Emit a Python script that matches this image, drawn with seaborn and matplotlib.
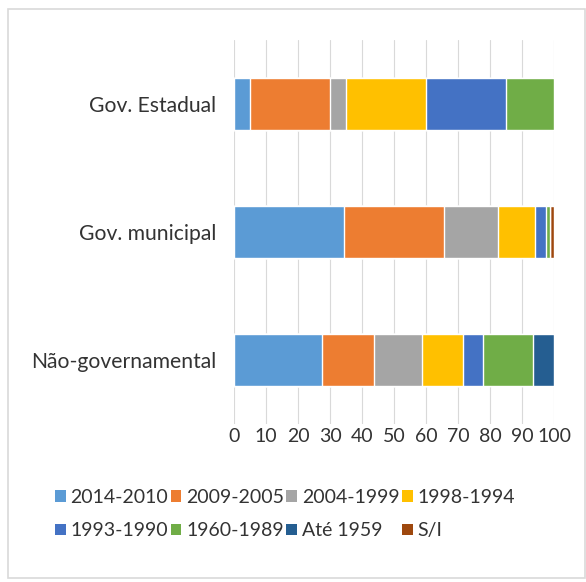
import matplotlib
matplotlib.use("Agg")
import matplotlib.pyplot as plt
import seaborn as sns
import pandas as pd
import numpy as np
from matplotlib.patches import Patch, Rectangle

sns.set_theme(style="white")
plt.rcParams['font.family'] = ['Lato', 'DejaVu Sans']

categories = ["Gov. Estadual", "Gov. municipal", "Não-governamental"]
series = ["2014-2010", "2009-2005", "2004-1999", "1998-1994",
          "1993-1990", "1960-1989", "Até 1959", "S/I"]
values = {
    "2014-2010": [5.0, 34.5, 27.6],
    "2009-2005": [25.0, 31.0, 16.1],
    "2004-1999": [5.0, 17.0, 14.9],
    "1998-1994": [25.0, 11.5, 13.1],
    "1993-1990": [25.0, 3.5, 6.0],
    "1960-1989": [15.0, 1.3, 15.8],
    "Até 1959": [0.0, 0.0, 6.5],
    "S/I": [0.0, 1.2, 0.0],
}
colors = ["#5B9BD5", "#ED7D31", "#A5A5A5", "#FFC000",
          "#4472C4", "#70AD47", "#255E91", "#9E480E"]
xticks = [0, 10, 20, 30, 40, 50, 60, 70, 80, 90, 100]

df = pd.DataFrame(values, index=categories)
cum = df.cumsum(axis=1)

fig = plt.figure(figsize=(5.86, 5.82), dpi=100)
ax = fig.add_axes([234/586, 1-424/582, 320/586, 384/582])

for s, c in reversed(list(zip(series, colors))):
    d = pd.DataFrame({"cat": categories, "val": cum[s].values})
    sns.barplot(data=d, x="val", y="cat", color=c, width=0.4,
                saturation=1, ax=ax, orient="h")

ax.set_xlim(0, 100)
ax.set_xticks(xticks)
ax.set_xticklabels([str(t) for t in xticks], fontsize=14, color="#333333")
ax.tick_params(axis="y", labelsize=15.2, labelcolor="#333333", length=0, pad=13)
ax.tick_params(axis="x", length=0, pad=3)
ax.set_xlabel("")
ax.set_ylabel("")
ax.grid(axis="x", color="#D9D9D9", linewidth=0.8)
ax.set_axisbelow(True)
for sp in ax.spines.values():
    sp.set_visible(False)

order = [0, 4, 1, 5, 2, 6, 3, 7]
handles = [Patch(facecolor=colors[i], edgecolor="none", label=series[i]) for i in order]
fig.legend(handles=handles, loc="center", bbox_to_anchor=(285/586, 1-514/582),
           ncol=4, frameon=False, fontsize=14, handlelength=0.55, handleheight=0.55,
           handletextpad=0.25, columnspacing=0.12, labelspacing=0.85,
           labelcolor="#333333")

fig.patches.append(Rectangle((8/586, 4/582), 577/586, 569/582, transform=fig.transFigure,
                             fill=False, edgecolor="#D9D9D9", linewidth=1.2))

fig.savefig("out.png", dpi=100)
